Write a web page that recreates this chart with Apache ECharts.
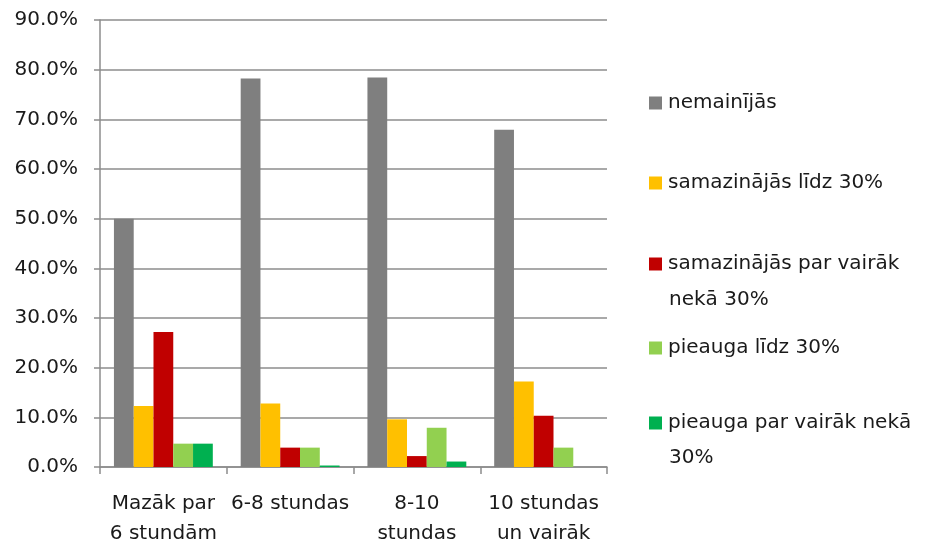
<!DOCTYPE html>
<html>
<head>
<meta charset="utf-8">
<script src="https://cdn.jsdelivr.net/npm/echarts@6/dist/echarts.min.js"></script>
<style>
  html, body { margin: 0; padding: 0; background: #fff; }
  #chart { width: 929px; height: 546px; }
</style>
</head>
<body>
<div id="chart"></div>
<script>
// kategorijas (x ass)
var categories = ["Mazāk par\n6 stundām", "6-8 stundas", "8-10\nstundas", "10 stundas\nun vairāk"];
var yTicks = [0, 10, 20, 30, 40, 50, 60, 70, 80, 90];

// sēriju vērtības, %
var nemainijas = [50.0, 78.2, 78.4, 67.9];
var samazLidz30 = [12.3, 12.8, 9.6, 17.2];
var samazVairak30 = [27.2, 3.9, 2.2, 10.3];
var pieaugaLidz30 = [4.7, 3.9, 7.9, 3.9];
var pieaugaVairak30 = [4.7, 0.3, 1.1, 0];

var seriesNames = [
  "nemainījās",
  "samazinājās līdz 30%",
  "samazinājās par vairāk nekā 30%",
  "pieauga līdz 30%",
  "pieauga par vairāk nekā 30%"
];
var seriesData = [nemainijas, samazLidz30, samazVairak30, pieaugaLidz30, pieaugaVairak30];
var colors = ["#7f7f7f", "#ffc000", "#c00000", "#92d050", "#00b050"];

var font = "DejaVu Sans";
var fontSize = 20;
var textColor = "#1a1a1a";
var lineColor = "#8c8c8c";

var chart = echarts.init(document.getElementById("chart"));

// leģenda - katrs ieraksts atsevišķi, jo atstarpes nav vienādas
var legendTops = [93, 173, 254, 338, 413];
var legendLabels = ["nemainījās", "samazinājās līdz 30%", "samazinājās par vairāk", "pieauga līdz 30%", "pieauga par vairāk nekā"];
var legends = seriesNames.map(function (name, i) {
  return {
    orient: "vertical",
    left: 649,
    top: legendTops[i],
    padding: 0,
    itemWidth: 13,
    itemHeight: 13,
    icon: "rect",
    data: [name],
    formatter: function () { return legendLabels[i]; },
    textStyle: { fontFamily: font, fontSize: fontSize, color: textColor, padding: [0, 0, 0, 1] }
  };
});

var series = seriesNames.map(function (name, i) {
  return {
    name: name,
    type: "bar",
    data: seriesData[i],
    barGap: 0,
    barCategoryGap: "22%",
    itemStyle: { color: colors[i] }
  };
});

var option = {
  animation: false,
  color: colors,
  grid: { left: 100, right: 322, top: 20, bottom: 79, containLabel: false, outerBoundsMode: "none" },
  legend: legends,
  // leģendas otrās rindas
  graphic: [
    { type: "text", left: 669, top: 290, style: { text: "nekā 30%", fontFamily: font, fontSize: fontSize, fill: textColor } },
    { type: "text", left: 669, top: 448, style: { text: "30%", fontFamily: font, fontSize: fontSize, fill: textColor } }
  ],
  xAxis: {
    type: "category",
    data: categories,
    axisLine: { lineStyle: { color: lineColor, width: 1.5 } },
    axisTick: { show: true, length: 7, lineStyle: { color: lineColor, width: 1.5 } },
    axisLabel: {
      interval: 0,
      margin: 22,
      fontFamily: font,
      fontSize: fontSize,
      color: textColor,
      lineHeight: 30
    }
  },
  yAxis: {
    type: "value",
    min: 0,
    max: 90,
    interval: 10,
    axisLine: { show: true, lineStyle: { color: lineColor, width: 1.5 } },
    axisTick: { show: true, length: 6, lineStyle: { color: lineColor, width: 1.5 } },
    axisLabel: {
      margin: 22,
      fontFamily: font,
      fontSize: fontSize,
      color: textColor,
      formatter: function (v) { return v.toFixed(1) + "%"; }
    },
    splitLine: { lineStyle: { color: lineColor, width: 1.5 } }
  },
  series: series
};
chart.setOption(option);
</script>
</body>
</html>
